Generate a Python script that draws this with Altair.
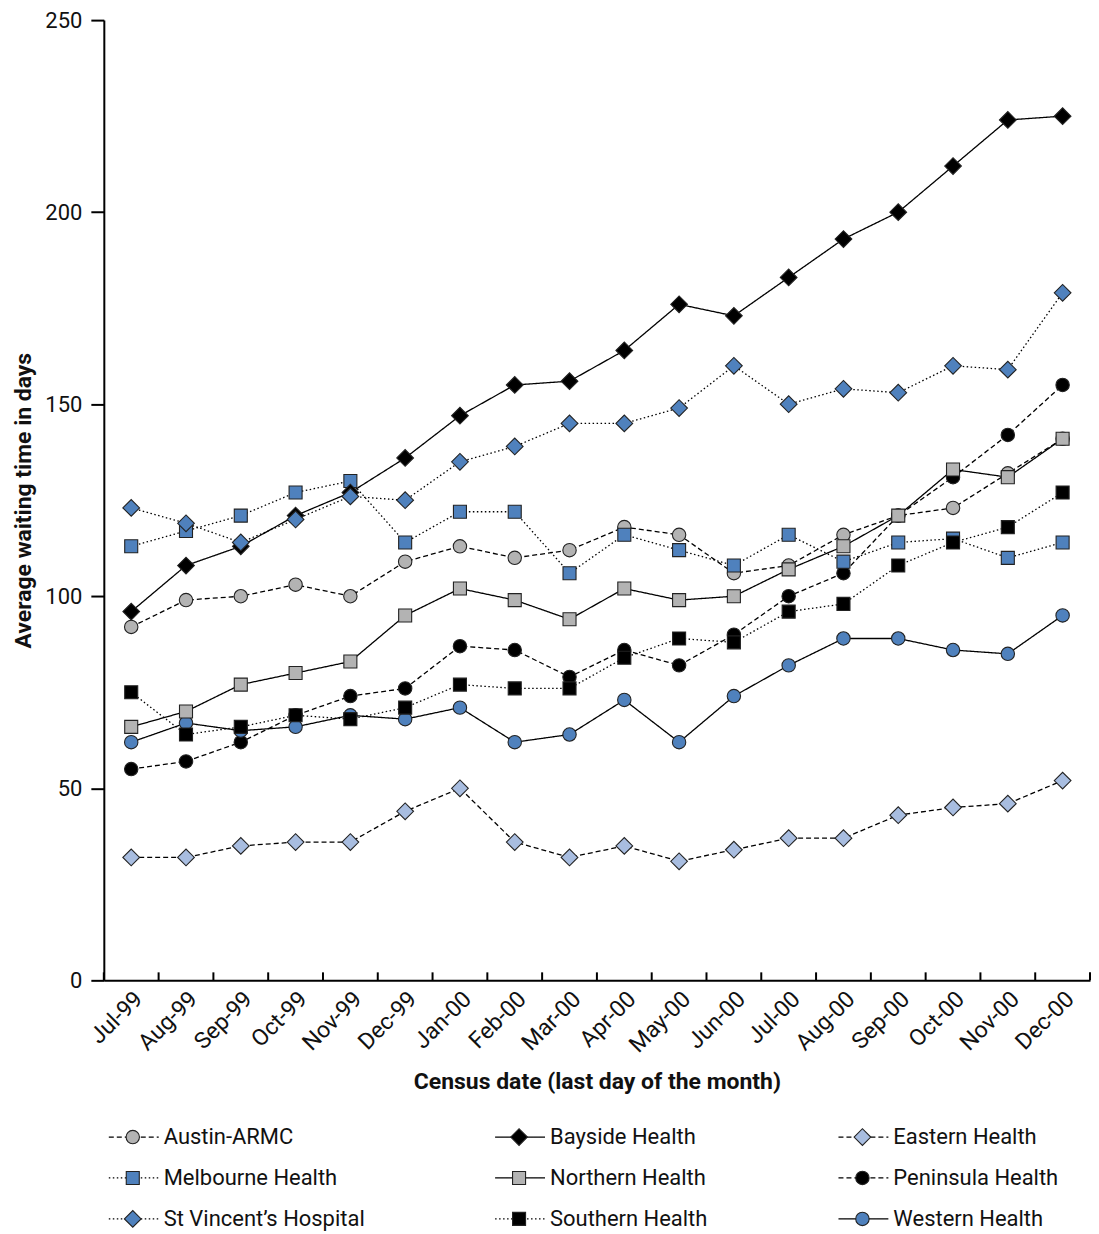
import altair as alt
import pandas as pd

months = ["Jul-99", "Aug-99", "Sep-99", "Oct-99", "Nov-99", "Dec-99",
          "Jan-00", "Feb-00", "Mar-00", "Apr-00", "May-00", "Jun-00",
          "Jul-00", "Aug-00", "Sep-00", "Oct-00", "Nov-00", "Dec-00"]

series_names = ["Austin-ARMC", "Bayside Health", "Eastern Health",
                "Melbourne Health", "Northern Health", "Peninsula Health",
                "St Vincent\u2019s Hospital", "Southern Health", "Western Health"]

austin = [92, 99, 100, 103, 100, 109, 113, 110, 112, 118, 116, 106, 108, 116, 121, 123, 132, 141]
bayside = [96, 108, 113, 121, 127, 136, 147, 155, 156, 164, 176, 173, 183, 193, 200, 212, 224, 225]
eastern = [32, 32, 35, 36, 36, 44, 50, 36, 32, 35, 31, 34, 37, 37, 43, 45, 46, 52]
melbourne = [113, 117, 121, 127, 130, 114, 122, 122, 106, 116, 112, 108, 116, 109, 114, 115, 110, 114]
northern = [66, 70, 77, 80, 83, 95, 102, 99, 94, 102, 99, 100, 107, 113, 121, 133, 131, 141]
peninsula = [55, 57, 62, 69, 74, 76, 87, 86, 79, 86, 82, 90, 100, 106, 121, 131, 142, 155]
stvincent = [123, 119, 114, 120, 126, 125, 135, 139, 145, 145, 149, 160, 150, 154, 153, 160, 159, 179]
southern = [75, 64, 66, 69, 68, 71, 77, 76, 76, 84, 89, 88, 96, 98, 108, 114, 118, 127]
western = [62, 67, 65, 66, 69, 68, 71, 62, 64, 73, 62, 74, 82, 89, 89, 86, 85, 95]

all_values = [austin, bayside, eastern, melbourne, northern, peninsula,
              stvincent, southern, western]

shapes = ["circle", "diamond", "diamond", "square", "square", "circle",
          "diamond", "square", "circle"]
fills = ["#b3b3b3", "#000000", "#a8bde0", "#4f81bd", "#b3b3b3", "#000000",
         "#4f81bd", "#000000", "#4f81bd"]
DASHED = [5, 3]
DOTTED = [1.5, 2.5]
SOLID = [1, 0]
dashes = [DASHED, SOLID, DASHED, DOTTED, SOLID, DASHED, DOTTED, DOTTED, SOLID]

rows = []
for name, shp, vals in zip(series_names, shapes, all_values):
    for m, v in zip(months, vals):
        rows.append({"series": name, "shape": shp, "month": m, "value": v})
df = pd.DataFrame(rows)

FONT = "Roboto"

x_scale = alt.Scale(type="band", domain=months, paddingInner=0, paddingOuter=0)
fill_scale = alt.Scale(domain=series_names, range=fills)
shape_scale = alt.Scale(domain=series_names, range=shapes)
dash_scale = alt.Scale(domain=series_names, range=dashes)

x_enc = alt.X("month:O", sort=months, scale=x_scale, bandPosition=0.5,
              axis=alt.Axis(title="Census date (last day of the month)",
                            labelAngle=-45, ticks=False, domainWidth=2,
                            domainColor="black", labelFontSize=23,
                            labelColor="#111111", labelPadding=7,
                            titleFontSize=23, titleFontWeight="bold",
                            titleColor="#111111", titlePadding=14))
y_enc = alt.Y("value:Q", scale=alt.Scale(domain=[0, 250]),
              axis=alt.Axis(values=[0, 50, 100, 150, 200, 250], tickSize=13,
                            tickWidth=2, tickColor="black", domainWidth=2,
                            domainColor="black", labelFontSize=22,
                            labelColor="#111111", labelPadding=9, grid=False,
                            title="Average waiting time in days",
                            titleFontSize=23, titleFontWeight="bold",
                            titleColor="#111111", titlePadding=9))

W, H = 988, 962

base = alt.Chart(df)

lines = base.mark_line(color="black", strokeWidth=1.3).encode(
    x=x_enc, y=y_enc, detail="series:N",
    strokeDash=alt.StrokeDash("series:N", scale=dash_scale, legend=None))

sizes = {"circle": 180, "square": 170, "diamond": 280}


def point_layer(chart, shp, xe, ye, **kw):
    return chart.transform_filter(alt.datum.shape == shp).mark_point(
        filled=True, stroke="#222222", strokeWidth=1.1, opacity=1,
        size=sizes[shp], **kw).encode(
        x=xe, y=ye,
        fill=alt.Fill("series:N", scale=fill_scale, legend=None),
        shape=alt.Shape("series:N", scale=shape_scale, legend=None))


pts = [point_layer(base, s, x_enc, y_enc) for s in ["circle", "square", "diamond"]]

tick_df = pd.DataFrame({"month": months})
ticks_start = alt.Chart(tick_df).mark_rule(color="black", strokeWidth=2).encode(
    x=alt.X("month:O", sort=months, scale=x_scale, bandPosition=0),
    y=alt.value(H - 8), y2=alt.value(H))
ticks_end = alt.Chart(tick_df).transform_filter(
    alt.datum.month == months[-1]).mark_rule(color="black", strokeWidth=2).encode(
    x=alt.X("month:O", sort=months, scale=x_scale, bandPosition=1),
    y=alt.value(H - 8), y2=alt.value(H))

main = alt.layer(lines, *pts, ticks_start, ticks_end).properties(width=W, height=H)

# Legend built from the series list
leg_df = pd.DataFrame({
    "series": series_names,
    "shape": shapes,
    "col": [i % 3 for i in range(len(series_names))],
    "row": [i // 3 for i in range(len(series_names))],
})
lx = alt.X("col:Q", scale=alt.Scale(domain=[0, 1, 2], range=[5, 392, 736]), axis=None)
ly = alt.Y("row:Q", scale=alt.Scale(domain=[0, 2], range=[13, 95]), axis=None)
lbase = alt.Chart(leg_df)
leg_rule = lbase.mark_rule(color="black", strokeWidth=1.3, x2Offset=50).encode(
    x=lx, x2="col:Q", y=ly,
    strokeDash=alt.StrokeDash("series:N", scale=dash_scale, legend=None))
leg_pts = [point_layer(lbase, s, lx, ly, xOffset=24) for s in ["circle", "square", "diamond"]]
leg_text = lbase.mark_text(align="left", baseline="middle", dx=55, fontSize=22,
                           color="#111111").encode(x=lx, y=ly, text="series:N")
legend = alt.layer(leg_rule, *leg_pts, leg_text).properties(width=960, height=104)

chart = alt.vconcat(main, legend, spacing=30).configure(
    font=FONT, padding={"left": 4, "top": 0, "right": 0, "bottom": 0}
).configure_view(stroke=None)

chart.save("out.html", embed_options={"renderer": "svg", "actions": False})
